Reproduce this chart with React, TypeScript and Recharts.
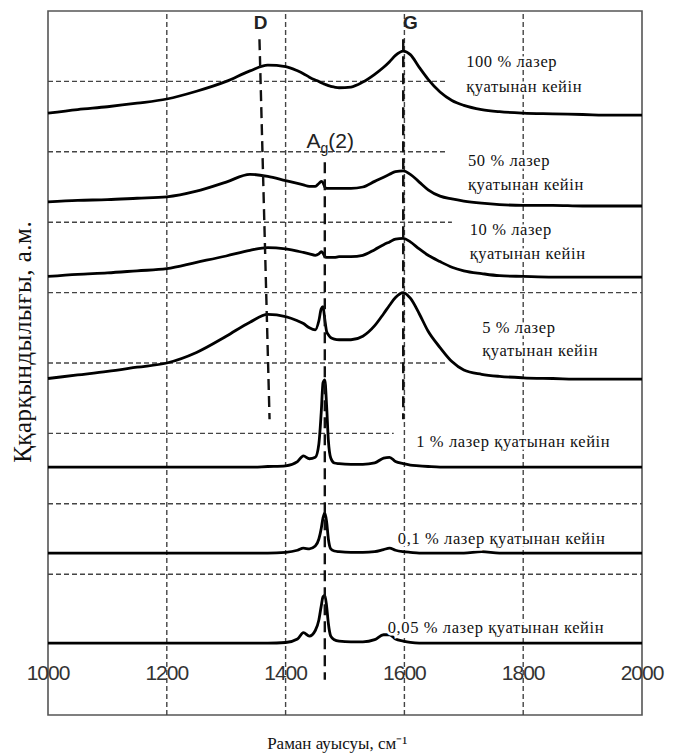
import React from 'react'
import { LineChart, Line, XAxis, YAxis, ReferenceLine, ReferenceArea, ReferenceDot } from 'recharts'

// Raman shift, cm-1
const shift = [
  1000, 1050, 1100, 1150, 1200, 1250, 1300, 1340, 1370, 1400,
  1420, 1430, 1440, 1450, 1456, 1460, 1463, 1466, 1469, 1472,
  1476, 1482, 1490, 1510, 1530, 1550, 1565, 1575, 1585, 1598,
  1610, 1625, 1640, 1660, 1680, 1700, 1730, 1760, 1800, 1850,
  1900, 1950, 2000,
]

// intensity (a.u., offset per spectrum)
const p100 = [
  8.55, 8.6, 8.64, 8.69, 8.75, 8.86, 9.0, 9.15, 9.23, 9.21,
  9.15, 9.11, 9.06, 9.02, 9.0, 8.98, 8.97, 8.96, 8.95, 8.94,
  8.93, 8.92, 8.91, 8.92, 8.99, 9.1, 9.2, 9.28, 9.37, 9.43,
  9.38, 9.2, 9.03, 8.85, 8.73, 8.66, 8.6, 8.57, 8.55, 8.54,
  8.53, 8.52, 8.52,
]
const p50 = [
  7.29, 7.31, 7.32, 7.34, 7.36, 7.44, 7.57, 7.68, 7.65, 7.59,
  7.55, 7.53, 7.51, 7.51, 7.55, 7.58, 7.56, 7.5, 7.48, 7.48,
  7.48, 7.48, 7.48, 7.48, 7.5, 7.58, 7.64, 7.68, 7.72, 7.73,
  7.68, 7.57, 7.46, 7.37, 7.33, 7.3, 7.27, 7.25, 7.24, 7.24,
  7.23, 7.23, 7.23,
]
const p10 = [
  6.23, 6.26, 6.28, 6.31, 6.34, 6.43, 6.52, 6.6, 6.64, 6.62,
  6.59, 6.57, 6.55, 6.53, 6.55, 6.58, 6.56, 6.51, 6.5, 6.5,
  6.5, 6.5, 6.51, 6.51, 6.53, 6.61, 6.68, 6.72, 6.76, 6.77,
  6.72, 6.62, 6.53, 6.44, 6.36, 6.31, 6.27, 6.24, 6.23, 6.22,
  6.22, 6.22, 6.22,
]
const p5 = [
  4.78, 4.83, 4.88, 4.94, 5.0, 5.15, 5.38, 5.58, 5.69, 5.66,
  5.6, 5.56, 5.5, 5.47, 5.6, 5.77, 5.8, 5.62, 5.45, 5.4,
  5.36, 5.34, 5.33, 5.33, 5.38, 5.53, 5.7, 5.82, 5.93, 6.0,
  5.92, 5.7, 5.45, 5.22, 5.02, 4.9, 4.84, 4.81, 4.79, 4.78,
  4.77, 4.77, 4.77,
]
const p1 = [
  3.52, 3.52, 3.52, 3.52, 3.52, 3.52, 3.52, 3.52, 3.53, 3.54,
  3.6, 3.68, 3.64, 3.66, 3.85, 4.3, 4.72, 4.76, 4.4, 3.9,
  3.65, 3.58, 3.57, 3.56, 3.56, 3.58, 3.65, 3.66, 3.6, 3.57,
  3.55, 3.54, 3.53, 3.52, 3.52, 3.52, 3.52, 3.52, 3.52, 3.52,
  3.52, 3.52, 3.52,
]
const p01 = [
  2.3, 2.3, 2.3, 2.3, 2.3, 2.3, 2.3, 2.3, 2.3, 2.31,
  2.34, 2.37, 2.36, 2.4, 2.5, 2.65, 2.8, 2.87, 2.75, 2.5,
  2.36, 2.33, 2.32, 2.31, 2.31, 2.32, 2.35, 2.37, 2.34, 2.32,
  2.31, 2.3, 2.3, 2.3, 2.3, 2.3, 2.32, 2.3, 2.3, 2.3,
  2.3, 2.3, 2.3,
]
const p005 = [
  1.02, 1.02, 1.02, 1.02, 1.02, 1.02, 1.02, 1.02, 1.02, 1.03,
  1.08, 1.17, 1.12, 1.2, 1.35, 1.55, 1.68, 1.7, 1.55, 1.3,
  1.12, 1.07, 1.05, 1.04, 1.04, 1.07, 1.14, 1.14, 1.08, 1.05,
  1.03, 1.02, 1.02, 1.02, 1.02, 1.02, 1.02, 1.02, 1.02, 1.02,
  1.02, 1.02, 1.02,
]

const xTicks = [1000, 1200, 1400, 1600, 1800, 2000]
const vGrid = [1200, 1400, 1600, 1800]
// horizontal dashed lines: level and where they stop
const hGrid = [
  { y: 9, to: 1673 },
  { y: 8, to: 1673 },
  { y: 7, to: 1680 },
  { y: 6, to: 2000 },
  { y: 5, to: 1673 },
  { y: 4, to: 1582 },
  { y: 3, to: 2000 },
  { y: 2, to: 2000 },
]

const series = ['p100', 'p50', 'p10', 'p5', 'p1', 'p01', 'p005']
const data = shift.map((x, i) => ({
  x,
  p100: p100[i],
  p50: p50[i],
  p10: p10[i],
  p5: p5[i],
  p1: p1[i],
  p01: p01[i],
  p005: p005[i],
}))

// spectrum captions
const captions = [
  { x: 1704, y: 9.28, text: '100 % лазер' },
  { x: 1704, y: 8.93, text: 'қуатынан кейін' },
  { x: 1707, y: 7.88, text: '50 % лазер' },
  { x: 1707, y: 7.53, text: 'қуатынан кейін' },
  { x: 1710, y: 6.9, text: '10 % лазер' },
  { x: 1710, y: 6.56, text: 'қуатынан кейін' },
  { x: 1731, y: 5.51, text: '5 % лазер' },
  { x: 1731, y: 5.18, text: 'қуатынан кейін' },
  { x: 1620, y: 3.89, text: '1 % лазер қуатынан кейін' },
  { x: 1589, y: 2.51, text: '0,1 % лазер қуатынан кейін' },
  { x: 1572, y: 1.24, text: '0,05 % лазер қуатынан кейін' },
]

const SERIF = '"Liberation Serif", "Times New Roman", serif'
const SANS = '"Liberation Sans", Arial, sans-serif'

function Caption(props: any) {
  const { viewBox, text } = props
  return (
    <text
      x={viewBox.x}
      y={viewBox.y}
      dominantBaseline="central"
      fontFamily={SERIF}
      fontSize={16.5}
      letterSpacing={0.6}
      fill="#111"
      stroke="#fff"
      strokeWidth={5}
      style={{ paintOrder: 'stroke' }}
    >
      {text}
    </text>
  )
}

function TickText(props: any) {
  const { viewBox, text } = props
  return (
    <text
      x={viewBox.x}
      y={viewBox.y}
      textAnchor="middle"
      dominantBaseline="central"
      fontFamily={SANS}
      fontSize={21}
      letterSpacing={-1}
      fill="#333"
    >
      {text}
    </text>
  )
}

function PeakText(props: any) {
  const { viewBox, text } = props
  return (
    <text x={viewBox.x} y={viewBox.y} textAnchor="middle" dominantBaseline="central" fontFamily={SANS} fontSize={19} fontWeight="bold" fill="#222">
      {text}
    </text>
  )
}

function AgText(props: any) {
  const { viewBox } = props
  return (
    <text x={viewBox.x} y={viewBox.y} textAnchor="middle" fontFamily={SANS} fontSize={21} fill="#222">
      <tspan>A</tspan>
      <tspan fontSize={14} dy={5}>g</tspan>
      <tspan dy={-5}>(2)</tspan>
    </text>
  )
}

function AxisTitle(props: any) {
  const { viewBox, text, rotate } = props
  return (
    <text
      x={viewBox.x}
      y={viewBox.y}
      textAnchor="middle"
      dominantBaseline="central"
      fontFamily={SERIF}
      fontSize={rotate ? 25 : 17}
      letterSpacing={rotate ? 0.5 : 0}
      fill="#111"
      transform={rotate ? `rotate(-90 ${viewBox.x} ${viewBox.y})` : undefined}
    >
      {text}
    </text>
  )
}

const grid = { stroke: '#444', strokeWidth: 1.4, strokeDasharray: '5 3' }
const peakLine = { stroke: '#111', strokeWidth: 2.4, strokeDasharray: '11 6' }

export default function App() {
  return (
    <LineChart width={666} height={747} data={data} margin={{ top: 3, right: 32, bottom: 40, left: 40 }}>
      <XAxis dataKey="x" type="number" domain={[1000, 2000]} hide />
      <YAxis type="number" domain={[0, 10]} hide />

      <ReferenceArea x1={1000} x2={2000} y1={0} y2={10} fill="none" stroke="#555" strokeWidth={1.6} />
      {vGrid.map((v) => (
        <ReferenceLine key={`v${v}`} x={v} {...grid} />
      ))}
      {hGrid.map((h) => (
        <ReferenceLine key={`h${h.y}`} segment={[{ x: 1000, y: h.y }, { x: h.to, y: h.y }]} {...grid} />
      ))}

      {series.map((k) => (
        <Line
          key={k}
          dataKey={k}
          type="monotone"
          stroke="#000"
          strokeWidth={2.8}
          dot={false}
          isAnimationActive={false}
        />
      ))}

      <ReferenceLine segment={[{ x: 1356, y: 9.6 }, { x: 1373, y: 4.2 }]} {...peakLine} />
      <ReferenceLine segment={[{ x: 1598, y: 9.6 }, { x: 1598, y: 4.2 }]} {...peakLine} />
      <ReferenceLine segment={[{ x: 1466, y: 7.85 }, { x: 1466, y: 0.5 }]} {...peakLine} />

      {captions.map((c, i) => (
        <ReferenceDot key={`c${i}`} x={c.x} y={c.y} r={0} fill="none" stroke="none" label={<Caption text={c.text} />} />
      ))}
      {xTicks.map((t) => (
        <ReferenceDot key={`t${t}`} x={t} y={0.6} r={0} fill="none" stroke="none" ifOverflow="visible" label={<TickText text={String(t)} />} />
      ))}
      <ReferenceDot x={1358} y={9.84} r={0} fill="none" stroke="none" label={<PeakText text="D" />} />
      <ReferenceDot x={1610} y={9.84} r={0} fill="none" stroke="none" label={<PeakText text="G" />} />
      <ReferenceDot x={1475} y={8.05} r={0} fill="none" stroke="none" label={<AgText />} />

      <ReferenceDot x={957} y={5.3} r={0} fill="none" stroke="none" ifOverflow="visible" label={<AxisTitle text="Ққарқындылығы, а.м." rotate />} />
      <ReferenceDot x={1487} y={-0.4} r={0} fill="none" stroke="none" ifOverflow="visible" label={<AxisTitle text="Раман ауысуы, см⁻¹" />} />
    </LineChart>
  )
}
